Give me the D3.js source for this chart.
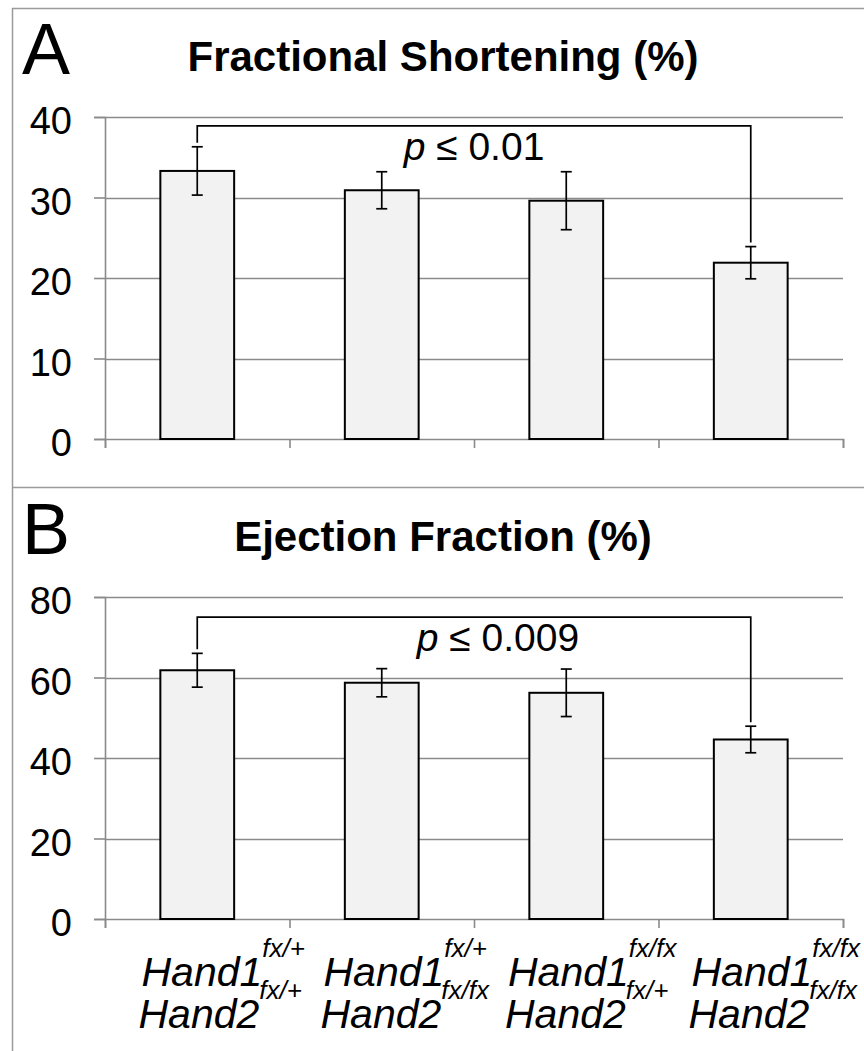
<!DOCTYPE html>
<html>
<head>
	<meta charset="utf-8">
	<title>Fractional Shortening / Ejection Fraction</title>
	<script src="https://cdn.jsdelivr.net/npm/d3@7"></script>
	<style>
		body {
			margin: 0;
			background: #fff;
			font-family: "Liberation Sans", Arial, Helvetica, sans-serif;
		}
		svg { display: block; }
	</style>
</head>

<body>

	<div id="chart"></div>

	<script>

		// data

		const groups       = ["G1", "G2", "G3", "G4"];
		const hand1Alleles = ["fx/+", "fx/+", "fx/fx", "fx/fx"];
		const hand2Alleles = ["fx/+", "fx/fx", "fx/+", "fx/fx"];

		const fsMean  = [33.3, 30.9, 29.6, 21.9];
		const fsErr   = [3.0, 2.3, 3.6, 2.0];
		const fsTicks = [0, 10, 20, 30, 40];

		const efMean  = [61.8, 58.7, 56.2, 44.6];
		const efErr   = [4.2, 3.5, 5.9, 3.3];
		const efTicks = [0, 20, 40, 60, 80];

		const panels = [
			{ letter: "A", title: "Fractional Shortening (%)", mean: fsMean, err: fsErr, ticks: fsTicks, pValue: "0.01",  bracket: 38.9, pDx: 0 },
			{ letter: "B", title: "Ejection Fraction (%)",     mean: efMean, err: efErr, ticks: efTicks, pValue: "0.009", bracket: 75,   pDx: 24 },
		];

		// layout

		const width       = 864;
		const height      = 1051;
		const panelStep   = 480;
		const plotLeft    = 105;
		const plotRight   = 843;
		const plotTop     = 117;
		const plotBottom  = 439;
		const gridColor   = "#8a8a8a";
		const frameColor  = "#9a9a9a";
		const barFill     = "#f2f2f2";

		const svg = d3.select("#chart")
			.append("svg")
			.attr("width", width)
			.attr("height", height)
			.attr("viewBox", [0, 0, width, height]);

		// outer frame
		svg.append("path")
			.attr("d", `M12.5,${height}V8.5H${width} M12.5,487.5H${width}`)
			.attr("fill", "none")
			.attr("stroke", frameColor)
			.attr("stroke-width", 1.5);

		const x = d3.scaleBand(groups, [plotLeft, plotRight])
			.paddingInner(0.6)
			.paddingOuter(0.3);
		const xEdge = d3.scaleLinear([0, groups.length], [plotLeft, plotRight]);
		const cx = g => x(g) + x.bandwidth() / 2;

		panels.forEach((p, pi) => {
			const g = svg.append("g").attr("transform", `translate(0,${pi * panelStep})`);
			const y = d3.scaleLinear([0, d3.max(p.ticks)], [plotBottom, plotTop]);

			// panel letter and title
			g.append("text")
				.attr("x", 22)
				.attr("y", 74)
				.attr("font-size", 72)
				.text(p.letter);
			g.append("text")
				.attr("x", 443)
				.attr("y", 71)
				.attr("text-anchor", "middle")
				.attr("font-size", 42)
				.attr("font-weight", "bold")
				.text(p.title);

			// gridlines
			g.append("g")
				.selectAll("line")
				.data(p.ticks.filter(t => t > 0))
				.join("line")
				.attr("x1", plotLeft)
				.attr("x2", plotRight)
				.attr("y1", d => Math.round(y(d)) + 0.5)
				.attr("y2", d => Math.round(y(d)) + 0.5)
				.attr("stroke", gridColor)
				.attr("stroke-width", 1.6);

			// y axis
			g.append("g")
				.attr("transform", `translate(${plotLeft},0)`)
				.call(d3.axisLeft(y).tickValues(p.ticks).tickSize(11).tickPadding(22))
				.call(a => a.select(".domain").attr("stroke", gridColor).attr("stroke-width", 1.6))
				.call(a => a.selectAll(".tick line").attr("stroke", gridColor).attr("stroke-width", 1.6))
				.call(a => a.selectAll(".tick text")
					.attr("font-size", 38)
					.attr("font-family", "Liberation Sans, Arial, sans-serif")
					.attr("fill", "#000")
					.attr("dy", "0.44em"));

			// x axis (ticks at category boundaries)
			g.append("g")
				.attr("transform", `translate(0,${plotBottom})`)
				.call(d3.axisBottom(xEdge).tickValues(d3.range(groups.length + 1)).tickSize(9).tickFormat(""))
				.call(a => a.select(".domain").attr("stroke", gridColor).attr("stroke-width", 1.6))
				.call(a => a.selectAll(".tick line").attr("stroke", gridColor).attr("stroke-width", 1.6));

			// bars
			g.append("g")
				.selectAll("rect")
				.data(groups)
				.join("rect")
				.attr("x", d => x(d))
				.attr("y", (d, i) => y(p.mean[i]))
				.attr("width", x.bandwidth())
				.attr("height", (d, i) => y(0) - y(p.mean[i]))
				.attr("fill", barFill)
				.attr("stroke", "#000")
				.attr("stroke-width", 2);

			// error bars
			const eb = g.append("g")
				.attr("stroke", "#000")
				.attr("stroke-width", 1.7)
				.selectAll("g")
				.data(groups)
				.join("g");
			eb.append("line")
				.attr("x1", cx).attr("x2", cx)
				.attr("y1", (d, i) => y(p.mean[i] + p.err[i]))
				.attr("y2", (d, i) => y(p.mean[i] - p.err[i]));
			eb.append("line")
				.attr("x1", d => cx(d) - 5.5).attr("x2", d => cx(d) + 5.5)
				.attr("y1", (d, i) => y(p.mean[i] + p.err[i]))
				.attr("y2", (d, i) => y(p.mean[i] + p.err[i]));
			eb.append("line")
				.attr("x1", d => cx(d) - 5.5).attr("x2", d => cx(d) + 5.5)
				.attr("y1", (d, i) => y(p.mean[i] - p.err[i]))
				.attr("y2", (d, i) => y(p.mean[i] - p.err[i]));

			// significance bracket between first and last group
			const first = 0, last = groups.length - 1;
			const by = y(p.bracket);
			const x0 = cx(groups[first]), x1 = cx(groups[last]);
			g.append("path")
				.attr("d", `M${x0},${y(p.mean[first] + p.err[first]) - 4}V${by}H${x1}V${y(p.mean[last] + p.err[last]) - 4}`)
				.attr("fill", "none")
				.attr("stroke", "#000")
				.attr("stroke-width", 1.7);

			const pt = g.append("text")
				.attr("x", (x0 + x1) / 2 + p.pDx)
				.attr("y", by + 34)
				.attr("text-anchor", "middle")
				.attr("font-size", 39);
			pt.append("tspan").attr("font-style", "italic").text("p");
			pt.append("tspan").text(" \u2264 " + p.pValue);
		});

		// genotype labels below the lower panel
		const labels = svg.append("g")
			.attr("font-style", "italic")
			.selectAll("g")
			.data(groups)
			.join("g");

		function genotypeLine(sel, gene, allele, baseline) {
			const t = sel.append("text").attr("y", baseline).attr("font-size", 41);
			t.append("tspan").text(gene);
			t.append("tspan").attr("dy", -29).attr("font-size", 26).text(allele);
			return t;
		}

		labels.each(function(d, i) {
			const sel = d3.select(this);
			const l1 = genotypeLine(sel, "Hand1", hand1Alleles[i], 986);
			const l2 = genotypeLine(sel, "Hand2", hand2Alleles[i], 1028);
			const w = Math.max(l1.node().getComputedTextLength(), l2.node().getComputedTextLength());
			let left = cx(d) + 26 - w / 2;
			if (left + w > 860) left = 860 - w;
			l1.attr("x", left);
			l2.attr("x", left - 3);
		});

	</script>

</body>

</html>
